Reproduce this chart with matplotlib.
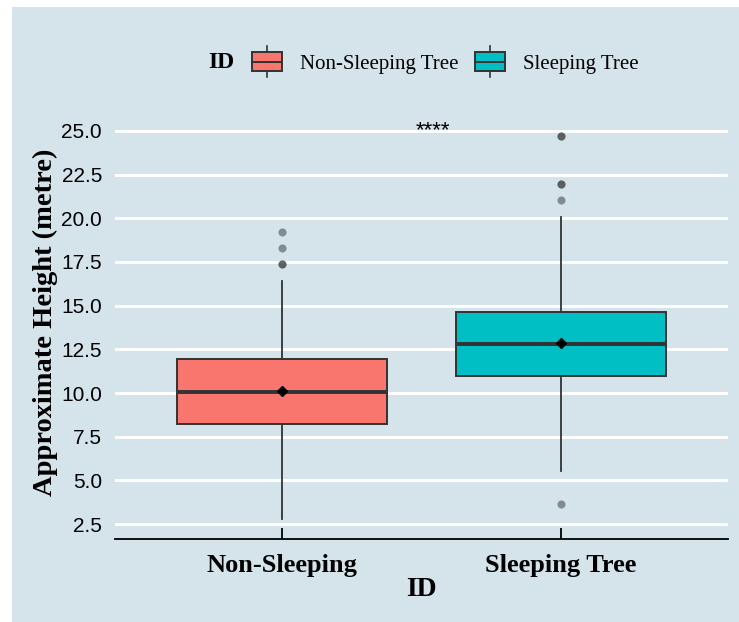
import matplotlib
matplotlib.use("Agg")
import matplotlib.pyplot as plt
from matplotlib.patches import Rectangle
from matplotlib.lines import Line2D
from matplotlib.legend_handler import HandlerBase

# Tree heights (m) by roost type, summarised as box statistics
groups = ["Non-Sleeping", "Sleeping Tree"]
legend_labels = ["Non-Sleeping Tree", "Sleeping Tree"]
fill_colors = ["#F8766D", "#00BFC4"]
q1 = [8.25, 11.0]
median = [10.08, 12.83]
q3 = [11.93, 14.64]
whisker_low = [2.78, 5.54]
whisker_high = [16.43, 20.1]
means = [10.1, 12.85]
outliers = [[17.4, 17.4, 18.3, 19.22], [3.67, 21.05, 21.95, 21.95, 24.71, 24.71]]
yticks = [2.5, 5.0, 7.5, 10.0, 12.5, 15.0, 17.5, 20.0, 22.5, 25.0]
signif_label = "****"
signif_y = 25.0

BG = "#d5e4eb"
EDGE = "#333333"
SERIF = "Liberation Serif"
SANS = "Liberation Sans"


class BoxKey(HandlerBase):
    """Legend key drawn as a tiny boxplot."""

    def create_artists(self, legend, orig_handle, xdescent, ydescent,
                       width, height, fontsize, trans):
        x0, y0 = -xdescent, -ydescent
        cx = x0 + width / 2
        box = Rectangle((x0, y0), width, height, facecolor=orig_handle.get_facecolor(),
                        edgecolor=EDGE, lw=1.4, transform=trans)
        mid = Line2D([x0, x0 + width], [y0 + height / 2] * 2, color=EDGE, lw=1.4, transform=trans)
        top = Line2D([cx, cx], [y0 + height, y0 + height * 1.3], color=EDGE, lw=1.2, transform=trans)
        bot = Line2D([cx, cx], [y0 - height * 0.3, y0], color=EDGE, lw=1.2, transform=trans)
        return [box, mid, top, bot]


fig = plt.figure(figsize=(7.39, 6.22), dpi=100)
fig.patch.set_facecolor("white")
fig.patches.append(Rectangle((12 / 739, 0), 1, 1 - 7 / 622, transform=fig.transFigure,
                             facecolor=BG, edgecolor="none", zorder=-10))

ax = fig.add_axes([0.155, 0.1334, 0.8307, 0.6984])
ax.set_facecolor(BG)

stats = []
for i, g in enumerate(groups):
    stats.append(dict(label=g, q1=q1[i], med=median[i], q3=q3[i], whislo=whisker_low[i],
                      whishi=whisker_high[i], mean=means[i], fliers=outliers[i]))

bp = ax.bxp(stats, positions=[1, 2], widths=0.75, patch_artist=True, showmeans=True,
            showcaps=False,
            boxprops=dict(edgecolor=EDGE, linewidth=1.4),
            medianprops=dict(color=EDGE, linewidth=2.8),
            whiskerprops=dict(color=EDGE, linewidth=1.3),
            flierprops=dict(marker="o", markersize=5.8, markerfacecolor=EDGE,
                            markeredgecolor="none", alpha=0.5),
            meanprops=dict(marker="D", markersize=5.5, markerfacecolor="black",
                           markeredgecolor="black"))
for patch, c in zip(bp["boxes"], fill_colors):
    patch.set_facecolor(c)
    patch.set_zorder(3)
for key in ("medians", "means", "whiskers", "fliers"):
    for art in bp[key]:
        art.set_zorder(4)

ax.text(1.54, signif_y, signif_label, ha="center", va="center", fontsize=16, family=SANS)

ax.set_xlim(0.4, 2.6)
ax.set_ylim(1.64, 26.51)
ax.set_yticks(yticks)
ax.set_yticklabels([f"{v:.1f}" for v in yticks], family=SANS, fontsize=15)
ax.set_xticks([1, 2])
ax.set_xticklabels(groups, family=SERIF, fontweight="bold", fontsize=19)
ax.grid(axis="y", color="white", linewidth=2.1, zorder=0)
ax.set_axisbelow(True)
ax.tick_params(axis="y", length=0, pad=9)
ax.tick_params(axis="x", direction="in", length=8, width=1.3, color="black", pad=11)
for side in ("top", "right", "left"):
    ax.spines[side].set_visible(False)
ax.spines["bottom"].set_color("black")
ax.spines["bottom"].set_linewidth(1.3)

ax.set_xlabel("ID", family=SERIF, fontweight="bold", fontsize=20, labelpad=0)
ax.set_ylabel("Approximate Height (metre)", family=SERIF, fontweight="bold", fontsize=20.5,
              labelpad=2)

handles = [Rectangle((0, 0), 1, 1, facecolor=c) for c in fill_colors]
fig.text(208 / 739, 1 - 63 / 622, "ID", ha="left", va="center", family=SERIF,
         fontweight="bold", fontsize=17)
fig.legend(handles, legend_labels, handler_map={Rectangle: BoxKey()},
           loc="center left", bbox_to_anchor=(252 / 739, 1 - 63 / 622), ncol=2,
           frameon=False, prop=dict(family=SERIF, size=15), borderpad=0,
           borderaxespad=0, handlelength=1.45, handleheight=1.05,
           handletextpad=0.85, columnspacing=0.8)

fig.savefig("out.png", dpi=100, facecolor="white")
